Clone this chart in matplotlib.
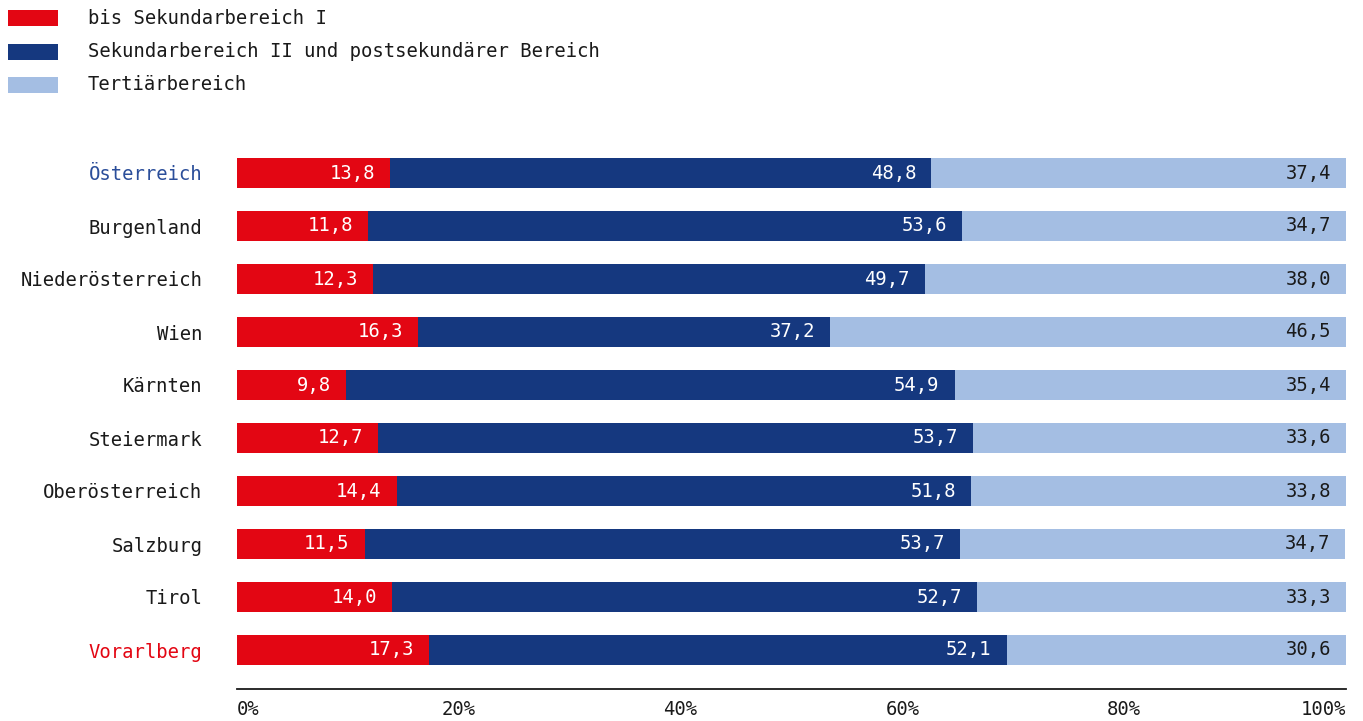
import matplotlib.pyplot as plt
from matplotlib.patches import Rectangle

plt.rcParams['font.family'] = ['DejaVu Sans Mono']

# data
regions = ['Österreich', 'Burgenland', 'Niederösterreich', 'Wien', 'Kärnten',
           'Steiermark', 'Oberösterreich', 'Salzburg', 'Tirol', 'Vorarlberg']
sek1 = [13.8, 11.8, 12.3, 16.3, 9.8, 12.7, 14.4, 11.5, 14.0, 17.3]
sek2 = [48.8, 53.6, 49.7, 37.2, 54.9, 53.7, 51.8, 53.7, 52.7, 52.1]
tert = [37.4, 34.7, 38.0, 46.5, 35.4, 33.6, 33.8, 34.7, 33.3, 30.6]
series_names = ['bis Sekundarbereich I',
                'Sekundarbereich II und postsekundärer Bereich',
                'Tertiärbereich']
xticks = [0, 20, 40, 60, 80, 100]

colors = ['#E30613', '#15387F', '#A4BEE3']
text_cols = ['white', 'white', '#1a1a1a']
label_cols = {'Österreich': '#2B4E9A', 'Vorarlberg': '#E30613'}

W, H = 1363, 721
fig = plt.figure(figsize=(W / 100, H / 100), dpi=100)
# axes in pixel coords
left, right, top, bottom = 237, 1346, 140, 689
ax = fig.add_axes([left / W, 1 - bottom / H, (right - left) / W, (bottom - top) / H])

fs = 13.6
ys = list(range(len(regions)))
lefts = [0] * len(regions)
for vals, c, tc in zip([sek1, sek2, tert], colors, text_cols):
    ax.barh(ys, vals, left=lefts, height=30 / 53, color=c, linewidth=0)
    for y, l, v in zip(ys, lefts, vals):
        end = min(l + v, 100)
        ax.annotate(f'{v:.1f}'.replace('.', ','), (end, y), xytext=(-15, 0),
                    textcoords='offset pixels', ha='right', va='center',
                    color=tc, fontsize=fs)
    lefts = [l + v for l, v in zip(lefts, vals)]

ax.set_xlim(0, 100)
ax.set_ylim(9 + 39 / 53, -33 / 53)
for s in ['top', 'right', 'left']:
    ax.spines[s].set_visible(False)
ax.spines['bottom'].set_linewidth(1.3)
ax.spines['bottom'].set_color('#1a1a1a')

ax.set_yticks(ys)
ax.set_yticklabels(regions, fontsize=fs)
ax.tick_params(axis='y', length=0, pad=25)
for lab in ax.get_yticklabels():
    lab.set_color(label_cols.get(lab.get_text(), '#1a1a1a'))

ax.set_xticks(xticks)
ax.set_xticklabels([f'{t}%' for t in xticks], fontsize=fs, color='#1a1a1a')
ax.tick_params(axis='x', length=0, pad=8)
tl = ax.get_xticklabels()
tl[0].set_ha('left')
tl[-1].set_ha('right')

# legend drawn by hand
for i, (name, c) in enumerate(zip(series_names, colors)):
    yc = 18 + i * 33.5
    fig.add_artist(Rectangle((8 / W, 1 - (yc + 8) / H), 50 / W, 16 / H,
                             transform=fig.transFigure, color=c, lw=0))
    fig.text(88 / W, 1 - yc / H, name, ha='left', va='center',
             fontsize=fs, color='#1a1a1a')

fig.savefig('out.png', dpi=100)
